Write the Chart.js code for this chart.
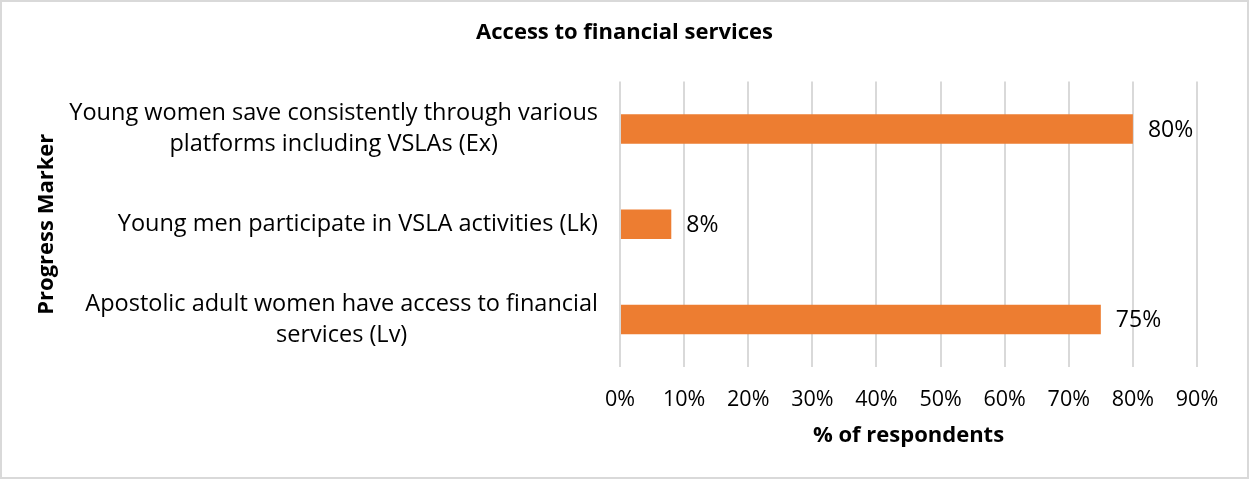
<!DOCTYPE html>
<html>
<head>
<meta charset="utf-8">
<script src="https://cdn.jsdelivr.net/npm/chart.js@4/dist/chart.umd.min.js"></script>
<style>
  html, body { margin: 0; padding: 0; background: #fff; }
  #wrap { width: 1249px; height: 479px; position: relative; }
</style>
</head>
<body>
<div id="wrap"><canvas id="chart"></canvas></div>
<script>
// data
var categories = [
    ["Young women save consistently through various", "platforms including VSLAs (Ex)"],
    ["Young men participate in VSLA activities (Lk)"],
    ["Apostolic adult women have access to financial", "services (Lv)"]
];
var values = [80, 8, 75];
var tickValues = [0, 10, 20, 30, 40, 50, 60, 70, 80, 90];

var fontFamily = "'Open Sans', 'Noto Sans', sans-serif";
var catFontSize = 23.5;
var catLineHeight = 31;

// white background + light grey frame
var frame = {
    id: "frame",
    beforeDraw: function (chart) {
        var c = chart.ctx;
        c.save();
        c.fillStyle = "#fff";
        c.fillRect(0, 0, chart.width, chart.height);
        c.strokeStyle = "#d9d9d9";
        c.lineWidth = 2;
        c.strokeRect(1, 1, chart.width - 2, chart.height - 2);
        c.restore();
    }
};

// category labels: block right-aligned to the axis, lines centred inside the block (Excel style)
var catLabels = {
    id: "catLabels",
    afterDraw: function (chart) {
        var c = chart.ctx;
        var scale = chart.scales.y;
        var right = scale.right - 22;
        c.save();
        c.font = catFontSize + "px " + fontFamily;
        c.fillStyle = "#000";
        c.textBaseline = "middle";
        c.textAlign = "center";
        categories.forEach(function (lines, i) {
            var y = scale.getPixelForTick(i);
            var widest = 0;
            lines.forEach(function (l) { widest = Math.max(widest, c.measureText(l).width); });
            var cx = right - widest / 2;
            var y0 = y - (lines.length - 1) * catLineHeight / 2;
            lines.forEach(function (l, j) {
                c.fillText(l, cx, y0 + j * catLineHeight);
            });
        });
        c.restore();
    }
};

// value labels at the end of each bar
var valueLabels = {
    id: "valueLabels",
    afterDatasetsDraw: function (chart) {
        var c = chart.ctx;
        var meta = chart.getDatasetMeta(0);
        c.save();
        c.font = "23px " + fontFamily;
        c.fillStyle = "#000";
        c.textBaseline = "middle";
        c.textAlign = "left";
        meta.data.forEach(function (bar, i) {
            c.fillText(values[i] + "%", bar.x + 15, bar.y + 1);
        });
        c.restore();
    }
};

var ctx = document.getElementById("chart").getContext("2d");
var myChart = new Chart(ctx, {
    type: "bar",
    data: {
        labels: categories,
        datasets: [{
            label: "% of respondents",
            data: values,
            backgroundColor: "#ED7D31",
            borderWidth: 0,
            barPercentage: 0.31,
            categoryPercentage: 1
        }]
    },
    options: {
        indexAxis: "y",
        responsive: true,
        maintainAspectRatio: false,
        animation: false,
        layout: { padding: { left: 52, right: 52, top: 0, bottom: 0 } },
        plugins: {
            legend: { display: false },
            tooltip: { enabled: false },
            title: {
                display: true,
                text: "Access to financial services",
                color: "#000",
                font: { family: fontFamily, size: 22, weight: "bold" },
                padding: { top: 20, bottom: 35 }
            }
        },
        scales: {
            x: {
                min: 0,
                max: 90,
                afterBuildTicks: function (scale) {
                    scale.ticks = tickValues.map(function (v) { return { value: v }; });
                },
                afterFit: function (scale) { scale.height = 112; },
                grid: { color: "#d9d9d9", lineWidth: 2, drawTicks: false },
                border: { display: false },
                ticks: {
                    color: "#000",
                    padding: 20,
                    font: { family: fontFamily, size: 21.5 },
                    callback: function (v) { return v + "%"; }
                },
                title: {
                    display: true,
                    text: "% of respondents",
                    color: "#000",
                    font: { family: fontFamily, size: 22, weight: "bold" },
                    padding: { top: 0, bottom: 30 }
                }
            },
            y: {
                afterFit: function (scale) { scale.width = 568; },
                grid: { display: false, drawTicks: false },
                border: { display: false },
                ticks: { display: false },
                title: {
                    display: true,
                    text: "Progress Marker",
                    color: "#000",
                    font: { family: fontFamily, size: 22, weight: "bold" },
                    padding: { top: -18, bottom: 0 }
                }
            }
        }
    },
    plugins: [frame, catLabels, valueLabels]
});
</script>
</body>
</html>
